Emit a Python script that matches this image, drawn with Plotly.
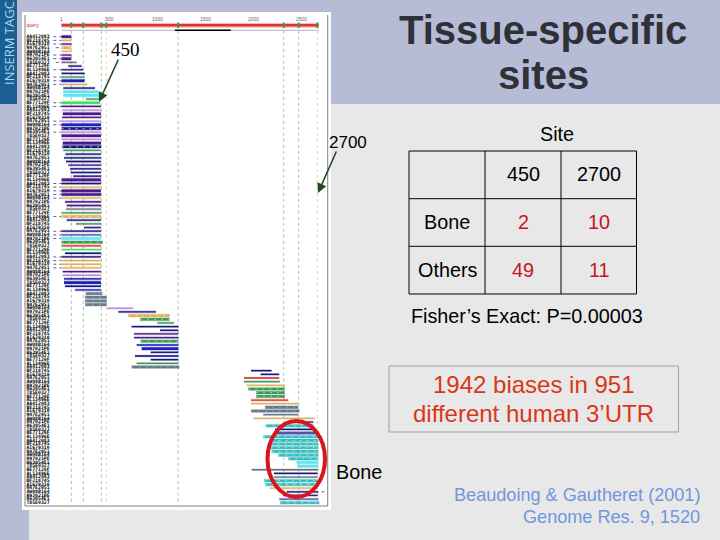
import plotly.graph_objects as go

# tick labels along the query sequence
tick_positions = [0, 500, 1000, 1500, 2000, 2500]
tick_labels = ["1", "500", "1000", "1500", "2000", "2500"]
query_length = 2680
query_hit_start = 1182
query_hit_end = 1763

# polyA sites (dotted verticals)
site_positions = [102, 227, 415, 467, 1215, 2315, 2471, 2665]
site_groups = ["grey", "green", "green", "tan", "slate", "green", "green", "tan"]

# one entry per EST row, top to bottom
row_start = [
    0, 0, 0, 0, 0, 0, 0, 0, 71, 0, 0, 0, 0, 0, 19, 19, 19, 255, 0, 0,
    7, 14, 7, 0, 0, 0, 0, 0, 0, 14, 7, 19, 41, 26, 48, 71, 89, 95, 123, 0,
    0, 0, 0, 0, 0, 36, 54, 47, 0, 0, 54, 151, 234, 0, 0, 0, 0, 0, 0, 36,
    0, 0, 0, 0, 12, 12, 26, 26, 36, 140, 252, 245, 245, 245, 477, 592, 696, 818, 998, 731,
    1026, 755, 755, 825, 783, 835, 929, 765, 929, 783, 731, 1974, 2074, 1901, 1901, 1929, 1946, 2026, 2026, 1974,
    1974, 2120, 1974, 2102, 1998, 2415, 2127, 2224, 2234, 2102, 2189, 2179, 2179, 2189, 2258, 2363, 2449, 2456, 1981, 2213,
    2213, 2109, 2120, 2172, 2345, 2310, 2269, 2276,
]
row_end = [
    102, 102, 102, 102, 102, 102, 102, 158, 210, 227, 241, 241, 241, 270, 349, 384, 384, 394, 400, 411,
    411, 411, 411, 411, 411, 411, 411, 411, 411, 411, 411, 411, 411, 411, 411, 411, 411, 411, 411, 411,
    411, 411, 411, 411, 411, 411, 411, 411, 411, 411, 411, 411, 411, 411, 411, 411, 429, 411, 411, 411,
    411, 411, 411, 411, 411, 411, 411, 411, 411, 411, 425, 470, 470, 470, 748, 984, 1126, 1126, 1172, 1217,
    1217, 1217, 1217, 1217, 1217, 1217, 1217, 1217, 1217, 1217, 1227, 2189, 2268, 2268, 2276, 2327, 2327, 2327, 2327, 2362,
    2466, 2466, 2477, 2466, 2640, 2623, 2623, 2640, 2675, 2675, 2675, 2675, 2675, 2675, 2675, 2675, 2675, 2675, 2675, 2668,
    2668, 2668, 2668, 2668, 2675, 2668, 2675, 2685,
]
row_group = [
    "purple_b", "tan", "purple", "tan_b", "tan", "purple", "purple_b", "grey", "navy", "purple",
    "navy", "green", "blue_b", "tan", "navy", "cyan_b", "cyan_b", "green", "bright_b", "purple",
    "pink", "purple_b", "purple", "pink", "blue_b", "navy_b", "pink", "purple_b", "pink", "purple_b",
    "navy_b", "green", "navy", "navy", "navy", "purple", "navy", "navy", "navy", "purple_b",
    "navy", "tan", "purple_b", "purple_b", "tan", "navy", "purple", "grey", "green", "tan_b",
    "navy", "green", "purple", "navy", "lav", "cyan_b", "green_b", "red", "bright", "navy",
    "navy", "tan", "tan", "tan", "purple", "pink", "navy", "blue_b", "navy", "blue",
    "slate_b", "slate_b", "slate_b", "slate_b", "pink", "navy", "tan_b", "green_b", "green", "navy",
    "navy", "purple", "purple", "green_b", "blue", "blue_b", "navy", "navy", "navy", "green",
    "slate_b", "navy", "navy", "red", "green", "tan", "green_b", "green_b", "green_b", "red",
    "tan", "slate_b", "slate_b", "slate", "tan", "purple", "teal_b", "navy", "lav_b", "teal_b",
    "teal_b", "teal_b", "teal_b", "teal_b", "teal_b", "teal_b", "cyan_b", "cyan_b", "grey", "navy",
    "slate", "teal_b", "teal_b", "tan", "navy", "purple", "lav", "teal_b",
]

# rows with a dotted unaligned tail, and where that tail begins
tail_rows = [0, 1, 2, 3, 5, 6, 7, 9, 11, 12, 13, 18, 19, 23, 24, 26, 40, 41, 42, 43, 44, 49, 53, 54, 55, 60, 61, 62, 63, 124]
tail_start = [-85, -85, -85, -60, -85, -85, -60, -85, -85, -85, -85, -85, -85, -85, -85, -85, -85, -85, -85, -85, -85,
              -85, -85, -85, -85, -85, -85, -85, -85, 2740]

# the clone names are illegible in the source, these only stand in for them
label_stems = ["AA412083", "BF218745", "AI679310", "N47E2951", "AW08B164", "H97021PE",
               "R63954E1", "T85E0327", "BE77120F", "AL13496E"]
query_label = "query"

# contingency table
site_names = ["450", "2700"]
tissue_names = ["Bone", "Others"]
counts = [[2, 10], [49, 11]]

group_colours = {
    "purple": "#4b1a86", "pink": "#b98adb", "tan": "#e0b060", "navy": "#15157e", "blue": "#2020c0",
    "green": "#3c9a54", "bright": "#48e060", "cyan": "#60e4ee", "slate": "#64788c", "teal": "#38bcbc",
    "red": "#d83030", "grey": "#707078", "lav": "#5850a8",
}
stripe_groups = {"teal_b": "#d8f6f6", "green_b": "#c8f0cc", "slate_b": "#a8b4c0", "navy_b": "#ffffff", "tan_b": "#fff0d0"}

LAVENDER = "#b6bbd6"
PANEL_GREY = "#e8e8e8"
ARROW_GREEN = "#1e4a2a"


def px(x):
    return x / 720


def py(y):
    return 1 - y / 540


fig = go.Figure()

# dotted site lines
for pos, grp in zip(site_positions, site_groups):
    fig.add_trace(go.Scatter(x=[pos, pos], y=[-1.6, 127.6], mode="lines", opacity=0.75,
                             line=dict(color=group_colours[grp], width=0.7, dash="dot")))

# query bar and hit
fig.add_trace(go.Scatter(x=[0, query_length], y=[-3.1, -3.1], mode="lines", opacity=0.3, line=dict(color="#e23038", width=5)))
fig.add_trace(go.Scatter(x=[0, query_length], y=[-3.1, -3.1], mode="lines", line=dict(color="#e23038", width=2.6)))
fig.add_trace(go.Scatter(x=[0, query_length], y=[-1.75, -1.75], mode="lines", line=dict(color="#a0a0a8", width=0.8)))
fig.add_trace(go.Scatter(x=[query_hit_start, query_hit_end], y=[-1.75, -1.75], mode="lines",
                         line=dict(color="#000000", width=1.4)))
fig.add_trace(go.Scatter(x=site_positions, y=[-3.1] * len(site_positions), mode="markers",
                         marker=dict(symbol="line-ns", size=4, line=dict(color="#3c9a54", width=2))))

# dotted tails
tail_x, tail_y = [], []
for r, s in zip(tail_rows, tail_start):
    edge = row_end[r] if s > row_end[r] else row_start[r]
    tail_x += [s, edge, None]
    tail_y += [r, r, None]
fig.add_trace(go.Scatter(x=tail_x, y=tail_y, mode="lines", line=dict(color="#6a5aa0", width=1, dash="dot")))

# EST rows, one trace per colour/weight
for grp in sorted(set(row_group)):
    xs, ys = [], []
    for r, (s, e, g) in enumerate(zip(row_start, row_end, row_group)):
        if g == grp:
            xs += [s, e, None]
            ys += [r, r, None]
    name = grp.split("_")[0]
    width = 2.6 if grp.endswith("_b") else 1.3
    # soft halo, the source is a blurry screenshot
    fig.add_trace(go.Scatter(x=xs, y=ys, mode="lines", opacity=0.28,
                             line=dict(color=group_colours[name], width=width + 1.4)))
    fig.add_trace(go.Scatter(x=xs, y=ys, mode="lines", line=dict(color=group_colours[name], width=width)))
    if grp in stripe_groups:
        fig.add_trace(go.Scatter(x=xs, y=ys, mode="lines", opacity=0.8,
                                 line=dict(color=stripe_groups[grp], width=0.8, dash="2px,5px")))

# row labels
row_labels = [label_stems[r % len(label_stems)] for r in range(len(row_start))]
fig.add_trace(go.Scatter(x=[-365] * len(row_labels), y=list(range(len(row_labels))), mode="text",
                         text=[f"<b>{t}</b>" for t in row_labels], textposition="middle right",
                         textfont=dict(family="DejaVu Sans Mono", size=4.8, color="#000000")))
fig.add_trace(go.Scatter(x=[-365], y=[-3.1], mode="text", text=[query_label], textposition="middle right",
                         textfont=dict(family="Liberation Sans", size=5, color="#c03030")))
fig.add_trace(go.Scatter(x=tick_positions, y=[-4.5] * len(tick_positions), mode="text", text=tick_labels,
                         textposition="middle center",
                         textfont=dict(family="Liberation Sans", size=5, color="#666666")))

shapes = [
    dict(type="rect", x0=px(0), x1=px(720), y0=py(104), y1=py(0), fillcolor=LAVENDER, line_width=0, layer="below"),
    dict(type="rect", x0=px(0), x1=px(29), y0=py(540), y1=py(104), fillcolor=LAVENDER, line_width=0, layer="below"),
    dict(type="rect", x0=px(29), x1=px(720), y0=py(540), y1=py(104), fillcolor=PANEL_GREY, line_width=0, layer="below"),
    dict(type="rect", x0=px(0), x1=px(17), y0=py(104), y1=py(0), fillcolor="#1a5e92", line_width=0, layer="below"),
    dict(type="rect", x0=px(22), x1=px(331), y0=py(510), y1=py(12), fillcolor="#ffffff", line_width=0, layer="below"),
    dict(type="line", x0=px(25), x1=px(25), y0=py(506), y1=py(15), line=dict(color="#808080", width=1), layer="below"),
    dict(type="line", x0=px(327.7), x1=px(327.7), y0=py(506), y1=py(15), line=dict(color="#808080", width=1), layer="below"),
    dict(type="line", x0=px(25), x1=px(327.7), y0=py(506), y1=py(506), line=dict(color="#808080", width=1), layer="below"),
    # red ellipse round the bone cluster
    dict(type="circle", x0=px(267.5), x1=px(325), y0=py(497), y1=py(421), line=dict(color="#d8141c", width=4), layer="above"),
    # box round the biases text
    dict(type="rect", x0=px(389), x1=px(678.5), y0=py(432), y1=py(366), line=dict(color="#a0a0a0", width=1)),
]

# table grid
for gx in [409, 485, 561, 636.5]:
    shapes.append(dict(type="line", x0=px(gx), x1=px(gx), y0=py(294), y1=py(151), line=dict(color="#000000", width=1)))
for gy in [151, 198.7, 246.3, 294]:
    shapes.append(dict(type="line", x0=px(409), x1=px(636.5), y0=py(gy), y1=py(gy), line=dict(color="#000000", width=1)))
for s in shapes:
    s["xref"] = "paper"
    s["yref"] = "paper"


def label(x, y, text, size=19.8, colour="#000000", family="Liberation Sans", bold=False, anchor="center", angle=0):
    return dict(x=px(x), y=py(y), xref="paper", yref="paper", text=f"<b>{text}</b>" if bold else text,
                showarrow=False, xanchor=anchor, yanchor="middle", textangle=angle,
                font=dict(family=family, size=size, color=colour))


def arrow(x0, y0, x1, y1):
    return dict(x=px(x1), y=py(y1), xref="paper", yref="paper", ax=x0 - x1, ay=y0 - y1, text="", showarrow=True,
                arrowhead=2, arrowsize=1.2, arrowwidth=1.6, arrowcolor=ARROW_GREEN)


annotations = [
    label(8.5, 43.5, "INSERM TAGC", size=13, colour="#a8d8f0", family="Open Sans", angle=-90),
    label(543, 30, "Tissue-specific", size=40, colour="#303038", bold=True),
    label(543, 75, "sites", size=40, colour="#303038", bold=True),
    label(125.5, 50, "450", size=19, family="Liberation Serif"),
    label(347.5, 142, "2700", size=17),
    arrow(119, 58, 99, 102),
    arrow(337, 150, 318, 193),
    label(557, 134, "Site"),
    label(358.5, 472, "Bone"),
    label(526.5, 316, "Fisher\u2019s Exact: P=0.00003"),
    label(533.5, 385, "1942 biases in 951", size=24, colour="#d83818"),
    label(533.5, 413, "different human 3\u2019UTR", size=24, colour="#d83818"),
    label(702, 495, "Beaudoing &amp; Gautheret (2001)", size=18.1, colour="#6f97dc", anchor="right"),
    label(702, 517, "Genome Res. 9, 1520", size=18.1, colour="#6f97dc", anchor="right"),
]

# table contents
column_centres = [523, 599]
row_centres = [222, 270]
for cx, name in zip(column_centres, site_names):
    annotations.append(label(cx, 174, name))
for cy, name, row in zip(row_centres, tissue_names, counts):
    annotations.append(label(447, cy, name))
    for cx, val in zip(column_centres, row):
        annotations.append(label(cx, cy, str(val), colour="#c8141c"))

fig.update_layout(
    width=720, height=540,
    margin=dict(l=0, r=0, t=0, b=0),
    paper_bgcolor=PANEL_GREY,
    plot_bgcolor="rgba(0,0,0,0)",
    showlegend=False,
    hovermode=False,
    xaxis=dict(visible=False, range=[-640.6, 6859.6]),
    yaxis=dict(visible=False, range=[137.14, -10]),
    shapes=shapes,
    annotations=annotations,
)

# the page's default body margin would push the chart off by 8px
fig.write_html("out.html", config=dict(displayModeBar=False),
               post_script="document.body.style.margin='0';document.documentElement.style.overflow='hidden';")
